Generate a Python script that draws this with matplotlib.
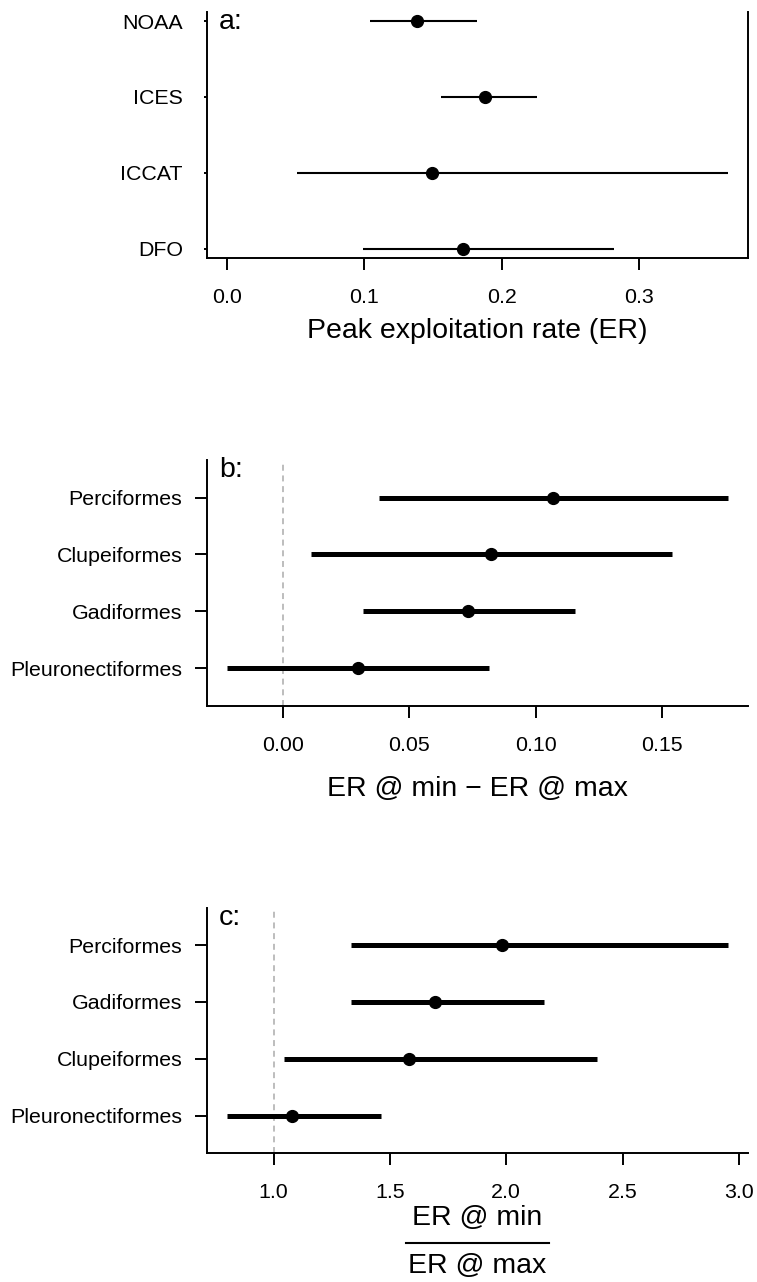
import numpy as np
import matplotlib.pyplot as plt

plt.rcParams['font.family'] = ['Liberation Sans', 'DejaVu Sans']
plt.rcParams['lines.scale_dashes'] = False

# peak exploitation rate by management agency (estimate, lower, upper)
agencies = ['DFO', 'ICCAT', 'ICES', 'NOAA']
peak_er = [0.172, 0.1495, 0.188, 0.1386]
peak_lo = [0.0992, 0.051, 0.1555, 0.1041]
peak_hi = [0.2821, 0.3647, 0.2258, 0.1822]

# ER at min minus ER at max, by taxonomic order
diff_orders = ['Pleuronectiformes', 'Gadiformes', 'Clupeiformes', 'Perciformes']
diff_mid = [0.0297, 0.0734, 0.0825, 0.1071]
diff_lo = [-0.0219, 0.0316, 0.0111, 0.0381]
diff_hi = [0.0816, 0.1157, 0.154, 0.176]

# ER at min divided by ER at max
ratio_orders = ['Pleuronectiformes', 'Clupeiformes', 'Gadiformes', 'Perciformes']
ratio_mid = [1.081, 1.580, 1.696, 1.984]
ratio_lo = [0.801, 1.046, 1.334, 1.334]
ratio_hi = [1.460, 2.391, 2.163, 2.952]

fig = plt.figure(figsize=(7.57, 12.82), dpi=100)
ax_a = fig.add_axes([0.2738, 0.799, 0.7139, 0.1917])
ax_b = fig.add_axes([0.2738, 0.4495, 0.7139, 0.1917])
ax_c = fig.add_axes([0.2738, 0.1004, 0.7139, 0.1917])


def interval_panel(ax, labels, mid, lo, hi, lw, letter, xticks, ticklabels, xlim):
    y = np.arange(1, len(labels) + 1)
    ax.hlines(y, lo, hi, color='black', lw=lw, capstyle='butt', zorder=2)
    ax.plot(mid, y, 'o', color='black', ms=8.5, zorder=3)
    ax.set_yticks(y)
    ax.set_yticklabels(labels)
    ax.set_xticks(xticks)
    ax.set_xticklabels(ticklabels)
    # R-style 4% padding around the plotted range
    span = xlim[1] - xlim[0]
    ax.set_xlim(xlim[0] - 0.04 * span, xlim[1] + 0.04 * span)
    for side in ['top', 'right']:
        ax.spines[side].set_visible(False)
    for side in ['left', 'bottom', 'right']:
        ax.spines[side].set_linewidth(1.4)
    ax.tick_params(axis='x', width=1.4, length=8.7, pad=13, labelsize=15.4)
    ax.tick_params(axis='y', width=1.4, length=8.9, pad=9.2, labelsize=15.4)
    ax.text(0.0217, 0.93, letter, transform=ax.transAxes, fontsize=20.5,
            va='baseline', ha='left')


interval_panel(ax_a, agencies, peak_er, peak_lo, peak_hi, 1.5, 'a:',
               [0.0, 0.1, 0.2, 0.3], ['0.0', '0.1', '0.2', '0.3'],
               (0.0, max(peak_hi)))
ax_a.set_ylim(0.88, 4.12)
ax_a.spines['right'].set_visible(True)
ax_a.tick_params(axis='y', length=2.2, pad=15.3)
ax_a.set_xlabel('Peak exploitation rate (ER)', fontsize=20.5, va='baseline')
ax_a.xaxis.set_label_coords(0.5, -0.328)

interval_panel(ax_b, diff_orders, diff_mid, diff_lo, diff_hi, 3.6, 'b:',
               [0.0, 0.05, 0.10, 0.15], ['0.00', '0.05', '0.10', '0.15'],
               (min(diff_lo), max(diff_hi)))
ax_b.axvline(0, color='#ababab', lw=1.1, dashes=(4.3, 3.4), zorder=1)
ax_b.set_ylim(0.34, 4.66)
ax_b.set_xlabel('ER @ min \u2212 ER @ max', fontsize=20.5, va='baseline')
ax_b.xaxis.set_label_coords(0.5, -0.366)

interval_panel(ax_c, ratio_orders, ratio_mid, ratio_lo, ratio_hi, 3.6, 'c:',
               [1.0, 1.5, 2.0, 2.5, 3.0], ['1.0', '1.5', '2.0', '2.5', '3.0'],
               (min(ratio_lo), max(ratio_hi)))
ax_c.axvline(1, color='#ababab', lw=1.1, dashes=(4.3, 3.4), zorder=1)
ax_c.set_ylim(0.34, 4.66)

# ratio label drawn as a stacked fraction
ax_c.text(0.5, -0.292, 'ER @ min', transform=ax_c.transAxes, fontsize=20.5,
          ha='center', va='baseline')
ax_c.plot([0.368, 0.632], [-0.365, -0.365], transform=ax_c.transAxes,
          color='black', lw=1.5, clip_on=False)
ax_c.text(0.5, -0.487, 'ER @ max', transform=ax_c.transAxes, fontsize=20.5,
          ha='center', va='baseline')

fig.savefig('out.png', dpi=100)
